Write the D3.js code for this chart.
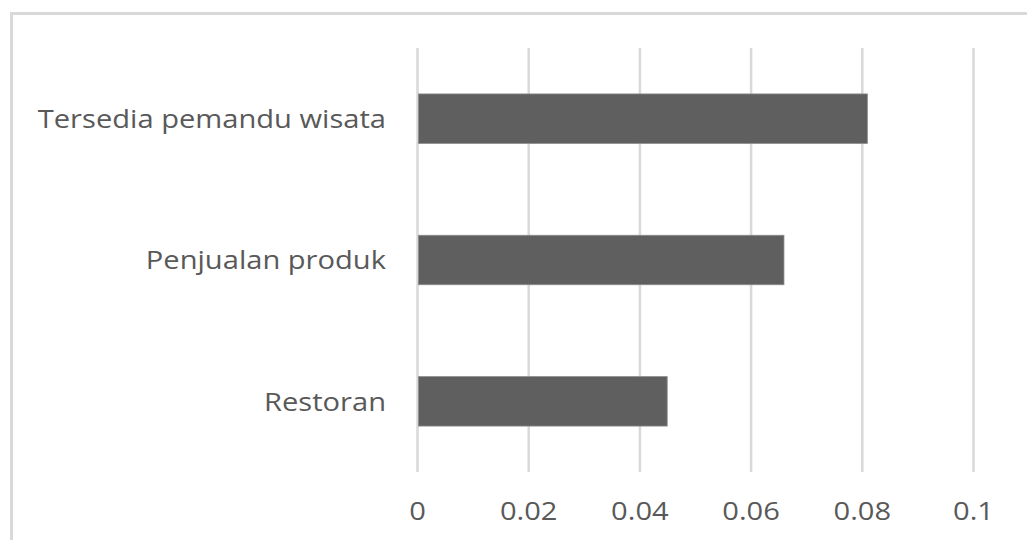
<!DOCTYPE html>
<html>
<head>
<meta charset="utf-8">
<script src="https://cdn.jsdelivr.net/npm/d3@7"></script>
<style>
  html, body { margin: 0; padding: 0; background: #fff; }
  svg { display: block; }
  text { font-family: "Open Sans", "Noto Sans", sans-serif; fill: #595959; }
</style>
</head>
<body>
<svg id="chart" width="1027" height="540"></svg>
<script>
// Categories listed top to bottom
const categories = ["Tersedia pemandu wisata", "Penjualan produk", "Restoran"];
const values = [0.081, 0.066, 0.045];
const tickValues = [0, 0.02, 0.04, 0.06, 0.08, 0.1];
const tickLabels = ["0", "0.02", "0.04", "0.06", "0.08", "0.1"];

const svg = d3.select("#chart");
const W = 1027, H = 540;
const plot = { left: 417, right: 973, top: 48, bottom: 472 };
const fontSize = 26;
const stretch = 1.12; // wide letterforms

// Outer chart frame (only its left and top edges fall inside the view)
svg.append("rect")
  .attr("x", 11.5).attr("y", 13.5)
  .attr("width", W + 20).attr("height", H + 20)
  .attr("fill", "none")
  .attr("stroke", "#d9d9d9")
  .attr("stroke-width", 3);

const x = d3.scaleLinear().domain([0, 0.1]).range([plot.left, plot.right]);
const y = d3.scaleBand().domain(categories).range([plot.top, plot.bottom]).paddingInner(0.65).paddingOuter(0.325);

// Vertical gridlines with value labels underneath
const xAxis = d3.axisBottom(x)
  .tickValues(tickValues)
  .tickSize(-(plot.bottom - plot.top))
  .tickPadding(0)
  .tickFormat((d, i) => tickLabels[i]);

const gx = svg.append("g")
  .attr("transform", `translate(0,${plot.bottom})`)
  .call(xAxis);
gx.select(".domain").remove();
gx.selectAll(".tick line").attr("stroke", "#d9d9d9").attr("stroke-width", 2.5);
gx.selectAll(".tick text")
  .attr("y", 0)
  .attr("dy", 0)
  .attr("transform", `translate(0,48) scale(${stretch},1)`)
  .attr("font-size", fontSize)
  .attr("fill", "#595959")
  .style("font-family", "'Open Sans', 'Noto Sans', sans-serif")
  .attr("text-anchor", "middle");

// Bars
svg.append("g").selectAll("rect")
  .data(categories)
  .join("rect")
  .attr("x", x(0) + 1.5)
  .attr("y", d => y(d))
  .attr("width", (d, i) => x(values[i]) - x(0) - 1.5)
  .attr("height", y.bandwidth())
  .attr("fill", "#5f5f5f")
  .attr("stroke", "#8a8a8a")
  .attr("stroke-width", 0.8);

// Category labels
svg.append("g").selectAll("text")
  .data(categories)
  .join("text")
  .attr("transform", d => `translate(386,${y(d) + y.bandwidth() / 2}) scale(${stretch},1)`)
  .attr("dy", "0.36em")
  .attr("text-anchor", "end")
  .attr("font-size", fontSize)
  .text(d => d);
</script>
</body>
</html>
